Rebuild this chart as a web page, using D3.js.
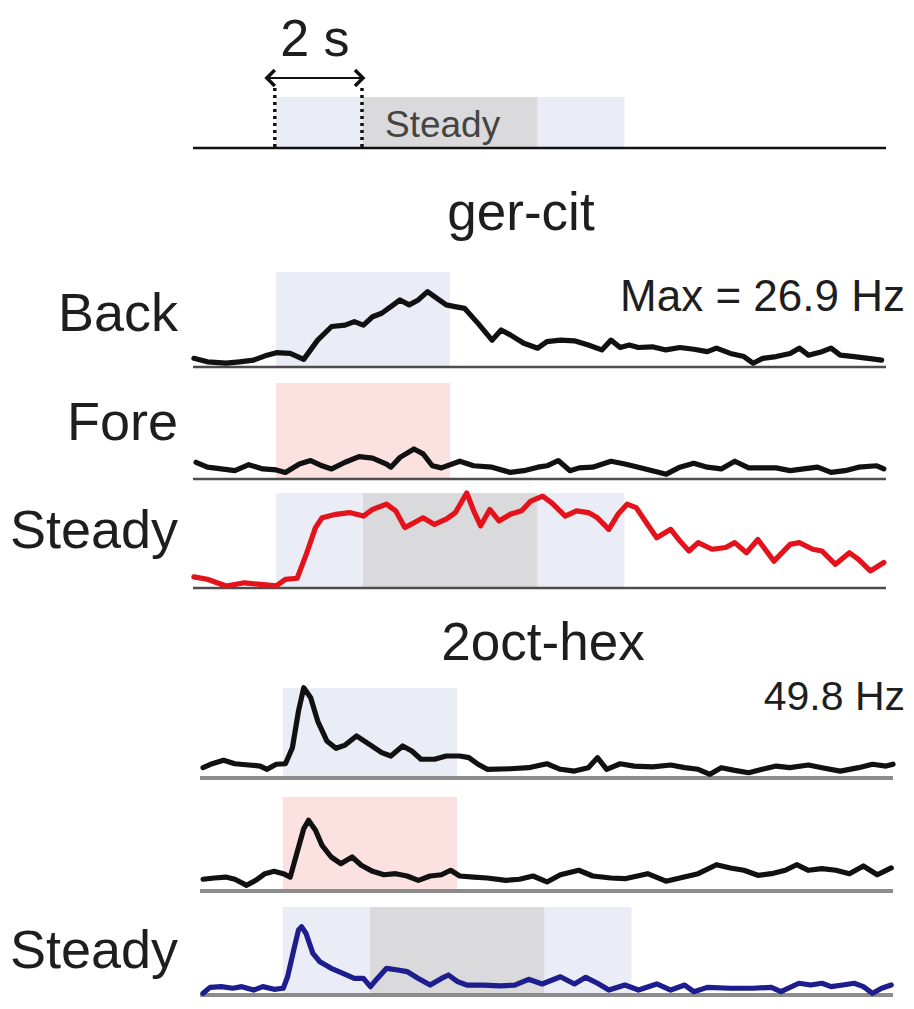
<!DOCTYPE html>
<html>
<head>
<meta charset="utf-8">
<script src="https://cdn.jsdelivr.net/npm/d3@7"></script>
<style>
  body { margin: 0; background: #fff; }
  svg { display: block; }
  text { font-family: "Liberation Sans", Arial, Helvetica, sans-serif; fill: #1e1e1e; }
</style>
</head>
<body>
<div id="chart"></div>
<script>
// stimulus timing (s)
const stimOn = 0, figureOff = 4, steadyOn = 2, steadyOff = 6, stimOff = 8;
const timeDomain = [-1.9, 14.0];

// firing rate traces, [time (s), rate (Hz)]
const gerBack = [[-1.88,2.2],[-1.57,1.2],[-1.14,0.8],[-0.83,1.2],[-0.51,1.7],[-0.20,3.1],[0.01,3.8],[0.33,3.6],[0.64,1.9],[0.96,7.4],[1.28,11.3],[1.59,11.7],[1.80,12.7],[2.01,11.7],[2.22,14.1],[2.43,15.1],[2.64,17.0],[2.85,18.9],[3.06,17.5],[3.27,18.9],[3.48,21.3],[3.69,19.4],[3.91,17.5],[4.11,17.0],[4.33,16.5],[4.64,12.2],[4.96,7.4],[5.17,10.3],[5.38,8.9],[5.69,6.5],[6.01,5.1],[6.22,7.0],[6.53,7.4],[6.85,7.2],[7.17,6.0],[7.48,4.6],[7.69,7.4],[7.90,5.3],[8.11,6.0],[8.32,5.3],[8.64,5.5],[8.95,4.6],[9.27,5.3],[9.59,4.8],[9.90,4.1],[10.11,5.1],[10.43,3.6],[10.74,2.7],[10.95,0.8],[11.17,2.2],[11.48,2.7],[11.80,3.6],[12.01,5.1],[12.22,3.1],[12.53,4.1],[12.74,5.1],[12.95,3.1],[13.27,2.7],[13.59,2.2],[13.90,1.7]];

const gerFore = [[-1.83,4.5],[-1.57,3.1],[-1.25,2.6],[-0.94,2.1],[-0.62,3.8],[-0.30,2.6],[0.01,2.3],[0.22,1.6],[0.54,4.0],[0.80,5.0],[1.06,3.5],[1.28,2.6],[1.59,4.5],[1.91,6.1],[2.22,5.7],[2.54,4.0],[2.64,3.1],[2.85,5.9],[3.17,8.3],[3.38,6.9],[3.59,3.5],[3.80,2.9],[4.22,4.8],[4.54,3.5],[4.96,3.1],[5.38,1.6],[5.69,2.1],[6.01,3.1],[6.22,3.5],[6.48,5.0],[6.75,2.1],[6.96,2.9],[7.27,3.1],[7.69,4.8],[8.01,4.0],[8.32,3.1],[8.64,2.1],[8.96,1.1],[9.27,3.1],[9.59,4.2],[9.90,3.1],[10.22,2.6],[10.53,4.8],[10.85,2.9],[11.17,2.9],[11.48,2.9],[11.80,2.1],[12.11,2.6],[12.43,3.1],[12.74,1.6],[13.06,2.1],[13.37,3.1],[13.79,3.5],[13.95,2.6]];

const gerSteady = [[-1.88,2.9],[-1.57,2.2],[-1.14,0.3],[-0.72,1.2],[-0.41,0.8],[0.01,0.3],[0.22,2.2],[0.49,2.5],[0.70,9.4],[0.91,17.0],[1.06,19.8],[1.38,20.8],[1.69,21.3],[2.01,20.3],[2.22,22.2],[2.54,23.7],[2.75,21.8],[2.96,17.0],[3.17,18.4],[3.38,19.8],[3.64,17.9],[3.91,19.4],[4.12,21.3],[4.38,26.9],[4.54,21.8],[4.70,17.5],[4.91,22.2],[5.12,18.9],[5.38,20.8],[5.64,21.8],[5.85,24.6],[6.12,26.0],[6.33,24.1],[6.64,20.3],[6.90,21.8],[7.17,21.3],[7.38,19.8],[7.64,16.5],[7.85,20.8],[8.06,23.7],[8.27,22.7],[8.53,17.9],[8.74,14.1],[9.06,16.5],[9.27,13.2],[9.48,10.3],[9.69,12.7],[10.01,10.8],[10.32,11.3],[10.53,12.7],[10.80,9.8],[11.06,13.6],[11.43,7.4],[11.80,12.2],[12.01,12.7],[12.32,10.8],[12.53,10.3],[12.84,6.5],[13.16,9.8],[13.37,7.9],[13.64,4.6],[13.95,7.0]];

const hexBack = [[-1.83,5.2],[-1.62,7.4],[-1.36,9.3],[-1.10,7.4],[-0.78,6.7],[-0.52,6.1],[-0.36,4.3],[-0.15,7.1],[0.06,7.4],[0.22,16.3],[0.36,36.8],[0.48,49.8],[0.64,44.2],[0.80,31.2],[1.01,20.1],[1.22,16.0],[1.43,17.8],[1.69,22.9],[1.96,18.6],[2.27,13.6],[2.48,11.7],[2.75,17.3],[2.96,14.5],[3.17,9.9],[3.48,9.9],[3.75,11.7],[4.06,11.7],[4.27,10.8],[4.48,7.1],[4.69,4.3],[5.22,4.6],[5.64,5.2],[6.06,7.4],[6.37,4.3],[6.69,3.3],[7.01,5.2],[7.22,10.8],[7.43,4.3],[7.74,7.4],[8.06,6.1],[8.48,5.6],[8.90,6.7],[9.22,5.2],[9.53,4.3],[9.80,1.5],[10.06,5.2],[10.37,3.7],[10.69,2.4],[11.00,4.3],[11.32,6.1],[11.63,5.2],[12.06,6.7],[12.37,5.2],[12.79,3.3],[13.21,5.2],[13.53,7.1],[13.84,6.1],[14.0,7.1]];

const hexFore = [[-1.83,6.0],[-1.57,6.7],[-1.31,7.2],[-1.10,6.0],[-0.83,2.6],[-0.62,5.4],[-0.41,9.1],[-0.20,10.4],[0.01,9.1],[0.17,7.2],[0.33,21.2],[0.48,34.2],[0.59,38.9],[0.75,33.3],[0.90,24.9],[1.11,18.4],[1.33,14.7],[1.59,18.4],[1.80,13.8],[2.06,10.4],[2.32,8.5],[2.59,9.1],[2.85,7.8],[3.11,5.4],[3.38,7.8],[3.64,8.5],[3.85,11.0],[4.06,7.8],[4.38,7.2],[4.69,6.7],[5.12,5.4],[5.43,6.0],[5.74,7.8],[6.06,4.5],[6.37,8.5],[6.79,11.0],[7.11,7.8],[7.53,6.7],[7.85,6.3],[8.37,9.1],[8.79,4.9],[9.11,6.7],[9.53,9.1],[9.95,14.1],[10.27,12.3],[10.58,11.0],[10.90,8.2],[11.21,9.1],[11.53,11.0],[11.79,14.1],[12.06,11.0],[12.37,11.9],[12.69,11.0],[13.00,9.1],[13.32,13.4],[13.64,8.5],[13.96,12.3]];

const hexSteady = [[-1.83,0.4],[-1.67,3.7],[-1.41,4.1],[-1.15,3.2],[-0.94,4.1],[-0.67,2.2],[-0.46,4.1],[-0.20,2.6],[0.01,3.2],[0.11,9.6],[0.25,24.5],[0.36,35.7],[0.43,37.5],[0.53,33.9],[0.69,22.7],[0.85,18.0],[1.11,14.3],[1.38,11.5],[1.64,8.7],[1.85,8.7],[2.01,4.1],[2.17,8.7],[2.38,14.3],[2.64,13.4],[2.85,12.5],[3.11,8.7],[3.38,5.0],[3.64,8.7],[3.80,10.6],[4.01,6.9],[4.22,5.0],[4.59,5.0],[5.00,4.5],[5.32,5.0],[5.64,8.2],[5.95,5.6],[6.37,9.6],[6.69,5.6],[6.95,9.3],[7.22,6.0],[7.48,2.2],[7.85,5.0],[8.16,2.2],[8.58,5.6],[8.90,2.2],[9.22,5.0],[9.43,1.3],[9.74,3.7],[10.27,3.2],[10.79,3.2],[11.21,3.7],[11.43,1.3],[11.84,6.0],[12.11,5.0],[12.37,6.0],[12.58,4.1],[12.85,5.0],[13.11,6.0],[13.32,4.1],[13.53,0.4],[13.74,3.2],[13.96,5.0]];

const gerMaxHz = 26.9;
const hexMaxHz = 49.8;

// colours
const lavender = "#eaedf6";
const steadyGrey = "#dadadc";
const pink = "#fce1e1";

const width = 914, height = 1009;

const svg = d3.select("#chart")
    .append("svg")
    .attr("width", width)
    .attr("height", height);

// ---- stimulus timeline at the top ----
const xTop = d3.scaleLinear().domain(timeDomain).range([193, 886]);
const timeline = svg.append("g");

timeline.append("rect")
    .attr("x", xTop(stimOn)).attr("y", 97)
    .attr("width", xTop(stimOff) - xTop(stimOn)).attr("height", 51)
    .attr("fill", lavender);
timeline.append("rect")
    .attr("x", xTop(steadyOn)).attr("y", 97)
    .attr("width", xTop(steadyOff) - xTop(steadyOn)).attr("height", 51)
    .attr("fill", steadyGrey);

timeline.append("text")
    .attr("x", xTop(steadyOn) + 22).attr("y", 137)
    .style("font-size", "37px")
    .style("fill", "#444")
    .text("Steady");

timeline.append("line")
    .attr("x1", 193).attr("x2", 886)
    .attr("y1", 148).attr("y2", 148)
    .attr("stroke", "#111").attr("stroke-width", 2.5);

[stimOn, steadyOn].forEach(t => {
    timeline.append("line")
        .attr("x1", xTop(t) - 1).attr("x2", xTop(t) - 1)
        .attr("y1", 88).attr("y2", 148)
        .attr("stroke", "#111").attr("stroke-width", 3.5)
        .attr("stroke-dasharray", "3,4");
});

// 2 s arrow
const ax0 = xTop(stimOn) - 9, ax1 = xTop(steadyOn);
timeline.append("line")
    .attr("x1", ax0).attr("x2", ax1)
    .attr("y1", 78).attr("y2", 78)
    .attr("stroke", "#111").attr("stroke-width", 2);
timeline.append("path")
    .attr("d", `M${ax0 + 8},70 L${ax0},78 L${ax0 + 8},86`)
    .attr("fill", "none").attr("stroke", "#111").attr("stroke-width", 3.5);
timeline.append("path")
    .attr("d", `M${ax1 - 8},70 L${ax1},78 L${ax1 - 8},86`)
    .attr("fill", "none").attr("stroke", "#111").attr("stroke-width", 3.5);
timeline.append("text")
    .attr("x", (ax0 + ax1) / 2).attr("y", 56)
    .attr("text-anchor", "middle")
    .style("font-size", "52px")
    .text("2 s");

// ---- trace panels ----
const groups = [
    {
        title: "ger-cit", titleX: 521, titleY: 230,
        xRange: [193, 886], maxHz: gerMaxHz, pxPerMax: 94,
        baseColor: "#4d4d4d", baseWidth: 2.5,
        note: "Max = 26.9 Hz", noteY: 311,
        panels: [
            { label: "Back", labelY: 331, data: gerBack, kind: "back", base: 366, h: 94, color: "#111" },
            { label: "Fore", labelY: 440, data: gerFore, kind: "fore", base: 478, h: 95, color: "#111" },
            { label: "Steady", labelY: 548, data: gerSteady, kind: "steady", base: 587, h: 94, color: "#e3121b" }
        ]
    },
    {
        title: "2oct-hex", titleX: 543, titleY: 660,
        xRange: [200, 893], maxHz: hexMaxHz, pxPerMax: 89.3,
        baseColor: "#8c8c8c", baseWidth: 4,
        note: "49.8 Hz", noteY: 710,
        panels: [
            { label: "", labelY: 0, data: hexBack, kind: "back", base: 777, h: 89, color: "#111" },
            { label: "", labelY: 0, data: hexFore, kind: "fore", base: 890, h: 93, color: "#111" },
            { label: "Steady", labelY: 968, data: hexSteady, kind: "steady", base: 994, h: 87, color: "#1d1d8e" }
        ]
    }
];

groups.forEach(grp => {
    const x = d3.scaleLinear().domain(timeDomain).range(grp.xRange);
    const g = svg.append("g");

    g.append("text")
        .attr("x", grp.titleX).attr("y", grp.titleY)
        .attr("text-anchor", "middle")
        .style("font-size", "53px")
        .text(grp.title);

    grp.panels.forEach(p => {
        const y = d3.scaleLinear()
            .domain([0, grp.maxHz])
            .range([p.base, p.base - grp.pxPerMax]);
        const panelTop = p.base - p.h;

        // stimulus shading
        if (p.kind === "steady") {
            g.append("rect")
                .attr("x", x(stimOn)).attr("y", panelTop)
                .attr("width", x(stimOff) - x(stimOn)).attr("height", p.h)
                .attr("fill", lavender);
            g.append("rect")
                .attr("x", x(steadyOn)).attr("y", panelTop)
                .attr("width", x(steadyOff) - x(steadyOn)).attr("height", p.h)
                .attr("fill", steadyGrey);
        } else {
            g.append("rect")
                .attr("x", x(stimOn)).attr("y", panelTop)
                .attr("width", x(figureOff) - x(stimOn)).attr("height", p.h)
                .attr("fill", p.kind === "fore" ? pink : lavender);
        }

        // baseline
        g.append("line")
            .attr("x1", grp.xRange[0]).attr("x2", grp.xRange[1])
            .attr("y1", p.base + 1).attr("y2", p.base + 1)
            .attr("stroke", grp.baseColor)
            .attr("stroke-width", grp.baseWidth);

        const line = d3.line()
            .x(d => x(d[0]))
            .y(d => y(d[1]));

        g.append("path")
            .datum(p.data)
            .attr("d", line)
            .attr("fill", "none")
            .attr("stroke", p.color)
            .attr("stroke-width", 5.2)
            .attr("stroke-linejoin", "round")
            .attr("stroke-linecap", "round");

        if (p.label) {
            g.append("text")
                .attr("x", 178).attr("y", p.labelY)
                .attr("text-anchor", "end")
                .style("font-size", "54px")
                .text(p.label);
        }
    });

    g.append("text")
        .attr("x", 905).attr("y", grp.noteY)
        .attr("text-anchor", "end")
        .style("font-size", grp.note.length > 8 ? "44px" : "41px")
        .text(grp.note);
});
</script>
</body>
</html>
